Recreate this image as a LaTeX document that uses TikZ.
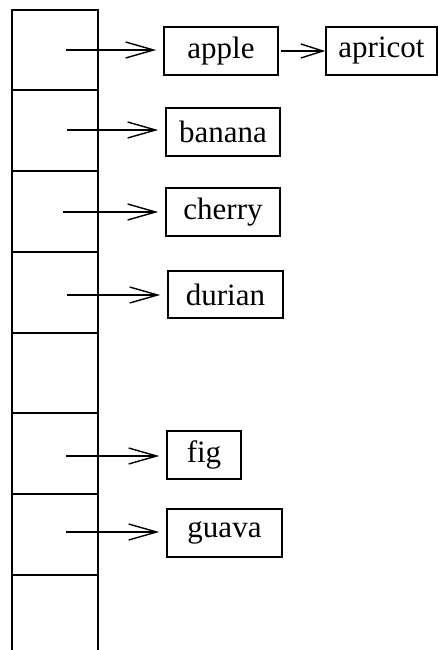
\documentclass[tikz,border=0pt]{standalone}
\usepackage{fontspec}
\setmainfont{Liberation Serif}
\usetikzlibrary{arrows.meta}
\begin{document}
\begin{tikzpicture}[x=1pt,y=-1pt,
  cell/.style={line width=1.8pt},
  fruit/.style={draw,line width=1.6pt,inner sep=0pt,minimum height=48pt,
    font=\fontsize{31}{37}\selectfont},
  ptr/.style={line width=1.4pt,-{Straight Barb[length=28pt,width=16pt,line width=1.4pt]},shorten >=7pt}]
\useasboundingbox (0,0) rectangle (438,650);
% hash table column
\draw[cell] (12,650) -- (12,10) -- (98,10) -- (98,650);
\foreach \yy in {90,171,252,333,413,494,575}
  \draw[cell] (12,\yy) -- (98,\yy);
% boxes
\node[fruit,minimum width=114pt] (apple) at (221,51) {apple};
\node[fruit,minimum width=111pt] (apricot) at (381.5,51) {apricot};
\node[fruit,minimum width=114pt] (banana) at (223,132) {banana};
\node[fruit,minimum width=114pt] (cherry) at (223,212) {cherry};
\node[fruit,minimum width=115pt,minimum height=47pt] (durian) at (225.5,294.5) {durian};
\node[fruit,minimum width=74pt] (fig) at (204,455) {fig};
\node[fruit,minimum width=115pt] (guava) at (224.5,533) {guava};
% pointer start points
\coordinate (c1) at (66,50);
\coordinate (c2) at (67,130);
\coordinate (c3) at (63,212);
\coordinate (c4) at (67,295);
\coordinate (c6) at (66,456);
\coordinate (c7) at (66,532);
\draw[ptr] (c1) -- (c1 -| apple.west);
\draw[ptr] (c2) -- (c2 -| banana.west);
\draw[ptr] (c3) -- (c3 -| cherry.west);
\draw[ptr] (c4) -- (c4 -| durian.west);
\draw[ptr] (c6) -- (c6 -| fig.west);
\draw[ptr] (c7) -- (c7 -| guava.west);
\draw[ptr,shorten >=0pt,shorten <=2pt,-{Straight Barb[length=22pt,width=14pt,line width=1.4pt]}] (apple.east) -- (apricot.west);
\end{tikzpicture}
\end{document}
